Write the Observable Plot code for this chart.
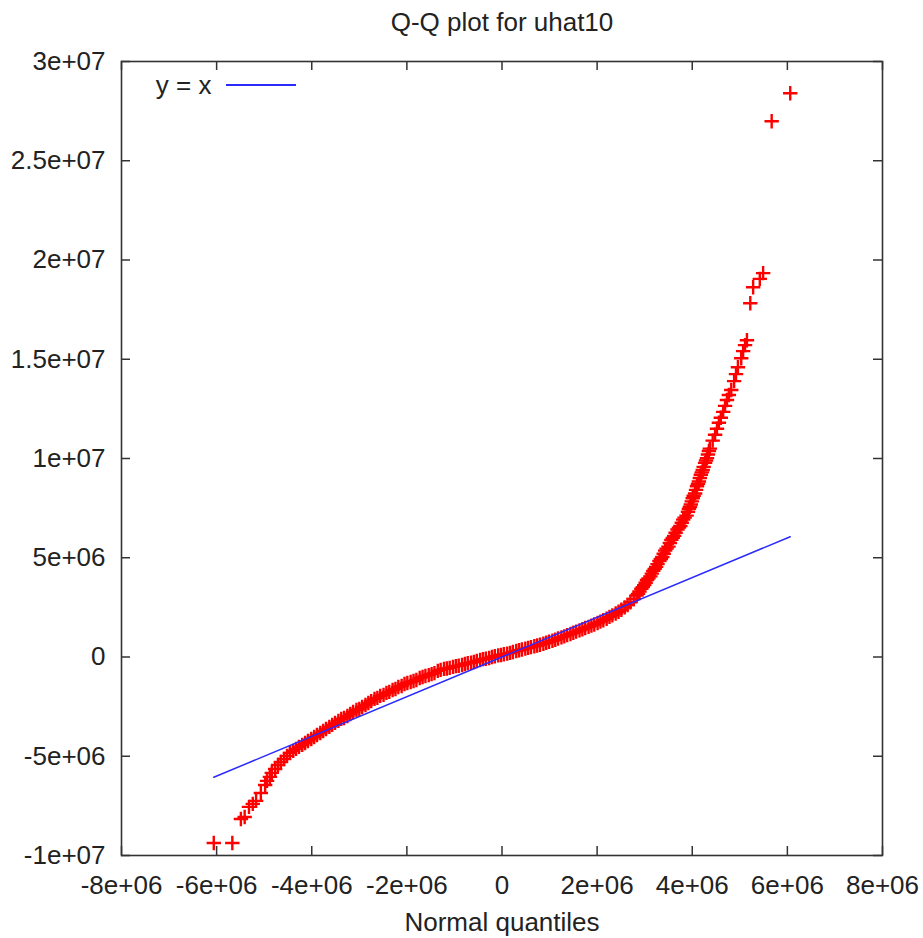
<!DOCTYPE html>
<html>
<head>
<meta charset="utf-8">
<script src="https://cdn.jsdelivr.net/npm/d3@7"></script>
<script src="https://cdn.jsdelivr.net/npm/@observablehq/plot@0.6"></script>
<style>
  html, body { margin: 0; padding: 0; background: #fff; }
  #wrap { position: relative; width: 923px; height: 938px; }
  #legendLine { position: absolute; left: 226px; top: 84px; width: 70px; height: 1.5px; background: #2a2aff; }
</style>
</head>
<body>
<div id="wrap"><div id="legendLine"></div></div>
<script>
// ---- data ----
const titleText = "Q-Q plot for uhat10";
const xLabelText = "Normal quantiles";
const legendText = "y = x";

const xTicks = [-8e6, -6e6, -4e6, -2e6, 0, 2e6, 4e6, 6e6, 8e6];
const xTickLabels = ["-8e+06", "-6e+06", "-4e+06", "-2e+06", "0", "2e+06", "4e+06", "6e+06", "8e+06"];
const yTicks = [-1e7, -5e6, 0, 5e6, 1e7, 1.5e7, 2e7, 2.5e7, 3e7];
const yTickLabels = ["-1e+07", "-5e+06", "0", "5e+06", "1e+07", "1.5e+07", "2e+07", "2.5e+07", "3e+07"];

// reference line y = x, drawn over the range of normal quantiles
const refLineX = [-6.06e6, 6.06e6];

// [normal quantile, sample quantile of uhat10]
const qqPoints = [
  [-6.06e6,-9.37e6],[-5.67e6,-9.37e6],[-5.49e6,-8.16e6],[-5.41e6,-8.06e6],[-5.32e6,-7.55e6],[-5.24e6,-7.40e6],[-5.17e6,-7.25e6],
  [-5.07e6,-6.85e6],[-4.98e6,-6.45e6],[-4.94e6,-6.24e6],[-4.88e6,-6.04e6],[-4.84e6,-5.84e6],[-4.77e6,-5.64e6],[-4.71e6,-5.44e6],
  [-4.65e6,-5.29e6],[-4.58e6,-5.14e6],[-4.52e6,-4.98e6],[-4.46e6,-4.83e6],[-4.39e6,-4.73e6],[-4.33e6,-4.63e6],[-4.27e6,-4.53e6],
  [-4.20e6,-4.43e6],[-4.14e6,-4.33e6],[-4.08e6,-4.23e6],[-4.01e6,-4.13e6],
  [-3.95e6,-4.03e6],[-3.89e6,-3.93e6],[-3.82e6,-3.83e6],[-3.76e6,-3.73e6],[-3.70e6,-3.63e6],[-3.63e6,-3.52e6],[-3.57e6,-3.42e6],
  [-3.51e6,-3.32e6],[-3.44e6,-3.22e6],[-3.38e6,-3.12e6],[-3.32e6,-3.07e6],[-3.25e6,-2.97e6],
  [-3.19e6,-2.87e6],[-3.13e6,-2.77e6],[-3.06e6,-2.67e6],[-3.00e6,-2.62e6],[-2.94e6,-2.52e6],[-2.87e6,-2.42e6],[-2.81e6,-2.32e6],[-2.75e6,-2.22e6],
  [-2.68e6,-2.11e6],[-2.62e6,-2.06e6],[-2.56e6,-1.96e6],[-2.49e6,-1.91e6],[-2.43e6,-1.81e6],[-2.37e6,-1.76e6],[-2.30e6,-1.66e6],
  [-2.24e6,-1.61e6],[-2.18e6,-1.51e6],[-2.11e6,-1.46e6],[-2.05e6,-1.36e6],
  [-1.99e6,-1.31e6],[-1.92e6,-1.26e6],[-1.86e6,-1.21e6],[-1.80e6,-1.16e6],[-1.73e6,-1.06e6],[-1.67e6,-1.01e6],[-1.61e6,-0.96e6],
  [-1.54e6,-0.91e6],[-1.48e6,-0.86e6],[-1.42e6,-0.81e6],[-1.35e6,-0.70e6],
  [-1.29e6,-0.65e6],[-1.22e6,-0.60e6],[-1.16e6,-0.58e6],[-1.10e6,-0.55e6],[-1.03e6,-0.50e6],[-0.97e6,-0.46e6],[-0.91e6,-0.44e6],
  [-0.84e6,-0.40e6],[-0.78e6,-0.35e6],[-0.72e6,-0.31e6],[-0.65e6,-0.29e6],
  [-0.59e6,-0.25e6],[-0.53e6,-0.20e6],[-0.46e6,-0.15e6],[-0.40e6,-0.11e6],[-0.34e6,-0.09e6],[-0.27e6,-0.05e6],[-0.21e6,0.00e6],
  [-0.15e6,0.04e6],[-0.08e6,0.08e6],[-0.02e6,0.10e6],[0.04e6,0.14e6],
  [0.11e6,0.17e6],[0.17e6,0.21e6],[0.23e6,0.25e6],[0.30e6,0.30e6],[0.36e6,0.34e6],[0.42e6,0.38e6],[0.49e6,0.42e6],
  [0.55e6,0.46e6],[0.61e6,0.50e6],[0.68e6,0.54e6],[0.74e6,0.58e6],
  [0.80e6,0.62e6],[0.87e6,0.67e6],[0.93e6,0.72e6],[0.99e6,0.77e6],[1.06e6,0.82e6],[1.12e6,0.87e6],[1.18e6,0.93e6],
  [1.25e6,0.99e6],[1.31e6,1.04e6],[1.37e6,1.10e6],[1.44e6,1.16e6],
  [1.50e6,1.22e6],[1.56e6,1.28e6],[1.63e6,1.34e6],[1.69e6,1.40e6],[1.75e6,1.46e6],[1.82e6,1.52e6],[1.88e6,1.58e6],
  [1.94e6,1.64e6],[2.01e6,1.71e6],[2.07e6,1.78e6],[2.13e6,1.85e6],[2.20e6,1.93e6],
  [2.26e6,2.02e6],[2.32e6,2.10e6],[2.39e6,2.19e6],[2.45e6,2.28e6],[2.51e6,2.38e6],[2.58e6,2.50e6],[2.64e6,2.62e6],
  [2.70e6,2.76e6],[2.77e6,2.92e6],[2.83e6,3.10e6],[2.86e6,3.18e6],[2.89e6,3.30e6],[2.93e6,3.44e6],[2.96e6,3.52e6],
  [2.99e6,3.62e6],[3.02e6,3.74e6],[3.05e6,3.88e6],[3.08e6,3.96e6],[3.12e6,4.06e6],[3.15e6,4.20e6],[3.18e6,4.34e6],
  [3.21e6,4.44e6],[3.24e6,4.54e6],[3.27e6,4.68e6],[3.31e6,4.84e6],[3.34e6,4.94e6],[3.37e6,5.04e6],[3.40e6,5.20e6],
  [3.43e6,5.36e6],[3.46e6,5.46e6],[3.50e6,5.56e6],[3.53e6,5.74e6],[3.56e6,5.90e6],[3.59e6,6.00e6],[3.62e6,6.10e6],
  [3.65e6,6.26e6],[3.69e6,6.42e6],[3.72e6,6.52e6],[3.75e6,6.60e6],[3.78e6,6.76e6],[3.81e6,6.92e6],[3.84e6,7.02e6],
  [3.88e6,7.12e6],[3.91e6,7.32e6],[3.93e6,7.46e6],[3.95e6,7.56e6],[3.97e6,7.68e6],[3.99e6,7.84e6],[4.01e6,8.00e6],
  [4.03e6,8.12e6],[4.06e6,8.24e6],[4.08e6,8.42e6],[4.10e6,8.60e6],[4.12e6,8.72e6],[4.14e6,8.84e6],[4.16e6,9.02e6],
  [4.18e6,9.18e6],[4.20e6,9.30e6],[4.22e6,9.42e6],[4.24e6,9.58e6],[4.27e6,9.78e6],[4.29e6,9.90e6],[4.31e6,10.02e6],
  [4.33e6,10.20e6],[4.35e6,10.38e6],[4.37e6,10.50e6],
  [4.43e6,10.90e6],[4.48e6,11.20e6],[4.52e6,11.50e6],[4.56e6,11.80e6],[4.60e6,12.05e6],[4.65e6,12.35e6],[4.69e6,12.65e6],
  [4.73e6,12.95e6],[4.77e6,13.20e6],[4.82e6,13.45e6],[4.88e6,13.90e6],[4.92e6,14.25e6],[4.96e6,14.60e6],[5.03e6,15.05e6],
  [5.07e6,15.41e6],[5.11e6,15.71e6],[5.15e6,15.96e6],[5.22e6,17.82e6],[5.28e6,18.63e6],[5.42e6,19.05e6],[5.49e6,19.34e6],
  [5.67e6,26.99e6],[6.06e6,28.40e6]
];

// ---- layout ----
const W = 923, H = 938;
const mL = 121, mR = 41, mT = 61, mB = 83;
const frameW = W - mL - mR, frameH = H - mT - mB;
const tickLen = 9;
const axisColor = "#333";
const textColor = "#222";

const xFmt = d => xTickLabels[xTicks.indexOf(d)];
const yFmt = d => yTickLabels[yTicks.indexOf(d)];

const chart = Plot.plot({
  width: W,
  height: H,
  marginLeft: mL,
  marginRight: mR,
  marginTop: mT,
  marginBottom: mB,
  style: {
    fontFamily: "'Liberation Sans', Arial, Helvetica, sans-serif",
    fontSize: "26px",
    color: textColor,
    background: "#fff",
    overflow: "visible"
  },
  x: { domain: [-8e6, 8e6] },
  y: { domain: [-1e7, 3e7] },
  marks: [
    Plot.axisX({ ticks: xTicks, tickFormat: xFmt, tickSize: 0, tickPadding: 20, label: null, fill: textColor }),
    Plot.axisY({ ticks: yTicks, tickFormat: yFmt, tickSize: 0, tickPadding: 16, label: null, fill: textColor }),
    // inward (mirrored) ticks
    Plot.tickX(xTicks, { x: d => d, insetTop: frameH - tickLen, stroke: axisColor, strokeWidth: 1.5 }),
    Plot.tickX(xTicks, { x: d => d, insetBottom: frameH - tickLen, stroke: axisColor, strokeWidth: 1.5 }),
    Plot.tickY(yTicks, { y: d => d, insetRight: frameW - tickLen, stroke: axisColor, strokeWidth: 1.5 }),
    Plot.tickY(yTicks, { y: d => d, insetLeft: frameW - tickLen, stroke: axisColor, strokeWidth: 1.5 }),
    // Q-Q points
    Plot.dot(qqPoints, { x: d => d[0], y: d => d[1], symbol: "plus", r: 4.7, stroke: "#ff0000", strokeWidth: 2.4 }),
    // y = x reference
    Plot.line(refLineX, { x: d => d, y: d => d, stroke: "#2a2aff", strokeWidth: 1.5 }),
    Plot.frame({ stroke: axisColor, strokeWidth: 1.6 }),
    // texts
    Plot.text([titleText], { text: d => d, frameAnchor: "top", dy: -39, lineAnchor: "middle", fill: textColor }),
    Plot.text([xLabelText], { text: d => d, frameAnchor: "bottom", dy: 67, lineAnchor: "middle", fill: textColor }),
    Plot.text([legendText], { text: d => d, frameAnchor: "top-left", dx: 90, dy: 24, lineAnchor: "middle", textAnchor: "end", fill: textColor })
  ]
});

document.getElementById("wrap").prepend(chart);
</script>
</body>
</html>
